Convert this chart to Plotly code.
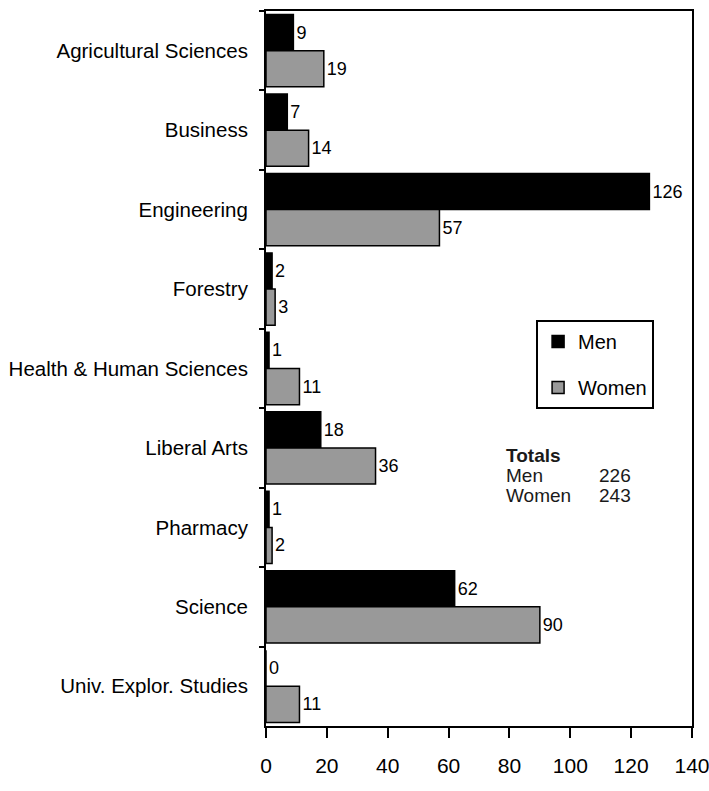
import plotly.graph_objects as go

colleges = ['Agricultural Sciences', 'Business', 'Engineering', 'Forestry',
            'Health & Human Sciences', 'Liberal Arts', 'Pharmacy', 'Science',
            'Univ. Explor. Studies']
men = [9, 7, 126, 2, 1, 18, 1, 62, 0]
women = [19, 14, 57, 3, 11, 36, 2, 90, 11]
x_ticks = [0, 20, 40, 60, 80, 100, 120, 140]

sans = "Liberation Sans, Arial, sans-serif"

fig = go.Figure()

fig.add_trace(
    go.Bar(y = colleges, x = men, name = 'Men', orientation = 'h',
           legendgroup = 'men',
           text = men, textposition = 'outside', constraintext = 'none',
           cliponaxis = False,
           textfont = dict(family = sans, size = 18, color = 'black'),
           marker = dict(color = 'black', line = dict(color = 'black', width = 1.5))))

fig.add_trace(
    go.Bar(y = colleges, x = women, name = 'Women', orientation = 'h',
           legendgroup = 'women',
           text = women, textposition = 'outside', constraintext = 'none',
           cliponaxis = False,
           textfont = dict(family = sans, size = 18, color = 'black'),
           marker = dict(color = '#999999', line = dict(color = 'black', width = 1.5))))

# totals box in the lower right of the plot
totals_font = dict(family = sans, size = 19, color = '#1a1a1a')
notes = [dict(text = "<b>Totals</b>", x = 0.559, y = 0.379),
         dict(text = "Men", x = 0.559, y = 0.350),
         dict(text = "Women", x = 0.559, y = 0.322),
         dict(text = str(sum(men)), x = 0.777, y = 0.350),
         dict(text = str(sum(women)), x = 0.777, y = 0.322)]
for n in notes:
    n.update(xref = 'paper', yref = 'paper', xanchor = 'left', yanchor = 'middle',
             showarrow = False, font = totals_font)

fig.update_layout(width = 709,
                  height = 791,
                  margin = dict(l = 266, r = 17, t = 11, b = 65),
                  plot_bgcolor = 'white',
                  paper_bgcolor = 'white',
                  barmode = 'group',
                  bargap = 0.09,
                  bargroupgap = 0,
                  font = dict(family = sans, color = 'black'),
                  xaxis = dict(range = [0, 140], tickvals = x_ticks, showgrid = False, zeroline = False,
                               showline = True, linecolor = 'black', linewidth = 2, mirror = True,
                               ticks = 'outside', ticklen = 10, tickwidth = 2, tickcolor = 'black',
                               ticklabelstandoff = 10, automargin = False, ticklabeloverflow = 'allow',
                               tickfont = dict(family = sans, size = 21)),
                  yaxis = dict(autorange = 'reversed', showgrid = False,
                               showline = True, linecolor = 'black', linewidth = 2, mirror = True,
                               ticks = 'outside', ticklen = 5, tickwidth = 2, tickcolor = 'black',
                               tickson = 'boundaries', ticklabelstandoff = 12, automargin = False,
                               tickfont = dict(family = sans, size = 20.5)),
                  legend = dict(x = 0.634, y = 0.568, xanchor = 'left', yanchor = 'top',
                                bordercolor = 'black', borderwidth = 2, bgcolor = 'white',
                                traceorder = 'grouped', tracegroupgap = 17,
                                font = dict(family = sans, size = 20)),
                  annotations = notes)

# drop the default 8px body margin so the figure fills the window exactly
fig.write_html("out.html", config = {'displayModeBar': False},
               post_script = "document.body.style.margin = '0';")
